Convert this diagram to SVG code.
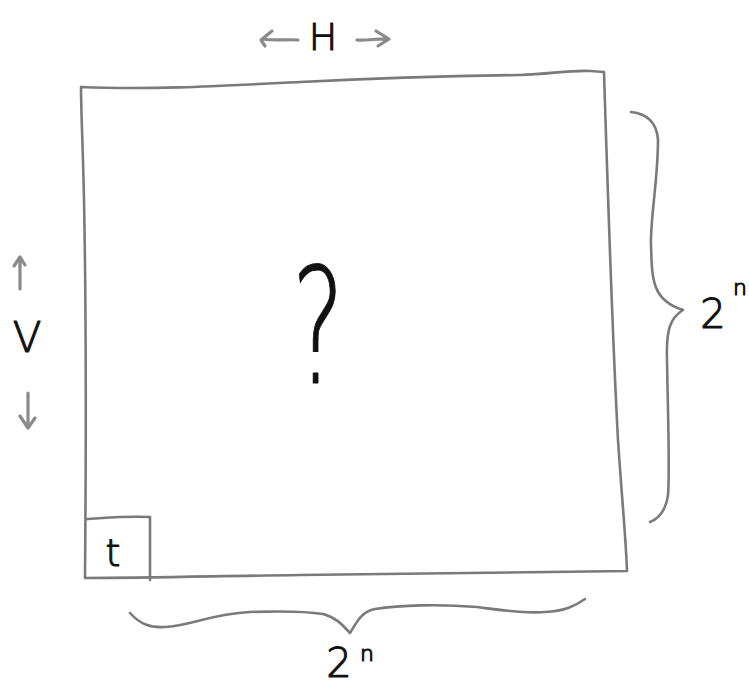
<svg xmlns="http://www.w3.org/2000/svg" width="749" height="699" viewBox="0 0 749 699">
<style>
.ln{fill:none;stroke:#7a7a7a;stroke-width:2.6;stroke-linecap:round;stroke-linejoin:round}
.ar{fill:none;stroke:#8a8a8a;stroke-width:3.2;stroke-linecap:round;stroke-linejoin:round}
.tx{font-family:"DejaVu Sans","Liberation Sans",sans-serif;font-weight:200;fill:#111;stroke:#111;stroke-width:1.1;stroke-linejoin:round}
</style>
<rect width="749" height="699" fill="#fff"/>
<g id="grid">
<path class="ln" d="M81,87 C150,90 220,86 300,82 C380,78 450,76 520,75 C550,74 570,70 590,71 L604,72 C608,200 612,330 618,440 C622,500 626,540 627,571 C500,572 400,574 300,575 C220,576 150,578 85,578 C86,460 86,300 84,200 C83,150 81,110 81,87 Z"/>
</g>
<g id="tile">
<path class="ln" d="M86,519 C105,518 125,516 150,517 L150,580"/>
<text class="tx" x="113" y="566" font-size="38" text-anchor="middle">t</text>
</g>
<g id="unknown">
<text class="tx" x="318" y="383" font-size="160" text-anchor="middle" stroke-width="1.6" transform="translate(318,0) scale(0.62,1) translate(-318,0)">?</text>
</g>
<g id="h-label">
<path class="ar" d="M298,40 C288,39 276,41 263,39 M272,31 L261,40 L265,46"/>
<path class="ar" d="M357,40 C367,41 378,38 389,39 M376,31 L389,39 L378,46"/>
<text class="tx" x="323" y="50" font-size="38" text-anchor="middle">H</text>
</g>
<g id="v-label">
<path class="ar" d="M20,289 L20,258 M14,266 L20,257 L25,265"/>
<path class="ar" d="M28,393 L28,428 M20,416 L28,428 L35,418"/>
<text class="tx" x="27" y="352" font-size="42" text-anchor="middle">V</text>
</g>
<g id="connectors">
<path class="ln" d="M631,112 C650,114 657,125 658,140 C658,180 650,220 651,245 C652,280 652,300 683,310 C670,318 666,330 667,360 C668,420 670,470 668,495 C666,510 660,518 650,522"/>
<path class="ln" d="M130,613 C140,624 150,628 165,627 C190,626 210,614 250,612 C280,611 310,612 323,614 C338,618 345,628 350,633 C356,624 360,612 375,609 C400,605 440,604 477,607 C500,610 525,614 545,612 C565,611 575,606 585,599"/>
</g>
<g id="size-labels">
<text class="tx" x="713" y="328" font-size="40" text-anchor="middle">2</text>
<text class="tx" x="740" y="295" font-size="22" text-anchor="middle">n</text>
<text class="tx" x="339" y="677" font-size="40" text-anchor="middle">2</text>
<text class="tx" x="367" y="661" font-size="22" text-anchor="middle">n</text>
</g>
</svg>
